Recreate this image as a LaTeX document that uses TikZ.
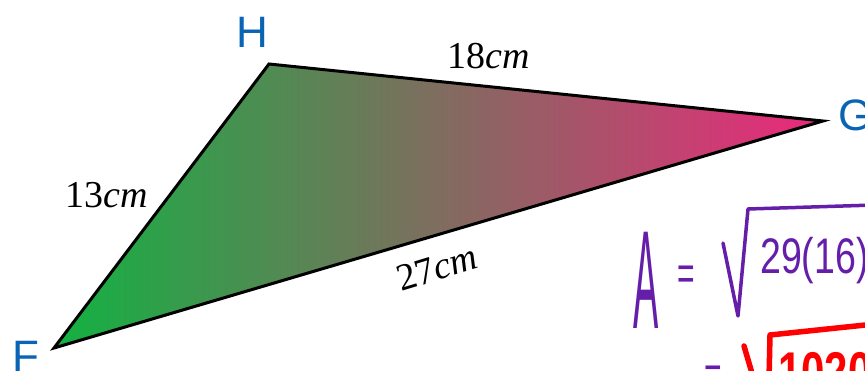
\documentclass[tikz,border=0pt]{standalone}
\usepackage{fontspec}
\setmainfont{Liberation Serif}
\newfontfamily\labelfont{Liberation Sans}
\definecolor{vblue}{RGB}{10,100,180}
\definecolor{tgreen}{RGB}{18,178,66}
\definecolor{tpink}{RGB}{236,40,124}
\definecolor{hpurple}{RGB}{100,30,170}
\definecolor{hred}{RGB}{255,0,0}
\tikzset{
  vlabel/.style={text=vblue, font=\labelfont\fontsize{44}{44}\selectfont, inner sep=0pt},
  slabel/.style={text=black, font=\fontsize{38}{38}\selectfont, inner sep=0pt},
  hwpurple/.style={text=hpurple, font=\labelfont\fontsize{50}{50}\selectfont, inner sep=0pt},
  hwred/.style={text=hred, font=\labelfont\bfseries\fontsize{56}{56}\selectfont, inner sep=0pt},
  edge/.style={draw=black, line width=3pt},
}
\begin{document}
\begin{tikzpicture}[x=1pt,y=-1pt]
\useasboundingbox (0,0) rectangle (865,371);
\clip (0,0) rectangle (865,371);
% vertices
\coordinate (F) at (54,348);
\coordinate (H) at (269,64);
\coordinate (G) at (823,121);
% triangle
\path[edge, left color=tgreen, right color=tpink] (F) -- (H) -- (G) -- cycle;
% vertex labels
\node[vlabel] (lH) at (252,32) {H};
\node[vlabel, anchor=west] (lG) at (838,115) {G};
\node[vlabel, anchor=north west] (lF) at (12,341) {F};
% side labels
\node[slabel] (s13) at (107,195) {13\textit{cm}};
\node[slabel] (s18) at (489,56) {18\textit{cm}};
\node[slabel, rotate=17] (s27) at (437,268) {27\textit{cm}};
% handwritten working (purple)
\node[hwpurple] (hA) at (646,280) {\scalebox{0.27}[1]{\fontsize{140}{140}\selectfont A}};
\node[hwpurple] (heq) at (686,278) {\scalebox{0.6}[1]{=}};
\draw[hpurple, line width=3.5pt, line cap=round, line join=round]
  (723,243) -- (738,316) -- (748,209) -- (875,205);
\node[hwpurple, anchor=west] (hexpr) at (760,261) {\scalebox{0.75}[1]{29(16)(11)(2)}};
% handwritten working (red)
\node[hwpurple] (heq2) at (713,378) {\scalebox{0.6}[1]{=}};
\draw[hred, line width=5.5pt, line cap=round, line join=round]
  (744,346) -- (754,380);
\draw[hred, line width=5.5pt, line cap=round, line join=round]
  (769,380) -- (770,335) -- (875,324);
\node[hwred, anchor=north west] (hres) at (778,352) {\scalebox{0.75}[1]{10208}};
\end{tikzpicture}
\end{document}
